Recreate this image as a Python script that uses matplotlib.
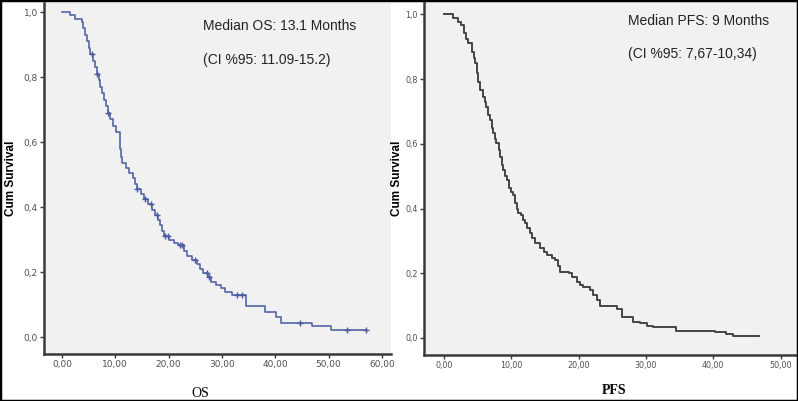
import numpy as np
import matplotlib.pyplot as plt
from matplotlib.patches import Rectangle

# OS Kaplan-Meier steps (time in months, survival after step)
os_time = [0, 1.5, 2.4, 3.7, 4.0, 4.3, 4.7, 5.0, 5.3, 5.8, 6.1, 6.5, 6.9, 7.2, 7.5,
           7.9, 8.3, 8.6, 9.0, 9.5, 10.2, 10.8, 10.9, 11.0, 11.2, 12.0, 12.6, 13.3,
           13.6, 14.0, 14.8, 15.4, 16.2, 16.8, 17.4, 18.0, 18.4, 18.8, 19.2, 20.0,
           21.0, 21.8, 22.9, 23.4, 24.4, 25.3, 25.9, 26.5, 27.4, 28.0, 28.8, 29.8,
           30.5, 31.8, 34.6, 38.1, 40.1, 41.1, 46.8, 50.5, 57.0]
os_surv = [1.0, 0.99, 0.98, 0.97, 0.95, 0.93, 0.91, 0.89, 0.87, 0.85, 0.83, 0.81,
           0.79, 0.77, 0.75, 0.73, 0.71, 0.69, 0.67, 0.65, 0.63, 0.61, 0.58, 0.555,
           0.535, 0.52, 0.505, 0.49, 0.47, 0.455, 0.44, 0.425, 0.41, 0.39, 0.375,
           0.36, 0.345, 0.325, 0.31, 0.298, 0.29, 0.283, 0.265, 0.25, 0.238, 0.225,
           0.21, 0.197, 0.185, 0.17, 0.16, 0.15, 0.14, 0.13, 0.094, 0.077, 0.061,
           0.044, 0.034, 0.022, 0.022]
os_censor = [5.6, 6.6, 8.7, 14.0, 15.6, 16.6, 17.8, 19.4, 19.8, 22.1, 22.5, 25.0,
             27.1, 27.6, 32.8, 33.7, 44.6, 53.4, 57.0]

# PFS Kaplan-Meier steps
pfs_time = [0, 1.4, 2.1, 2.6, 2.9, 3.3, 3.6, 4.1, 4.4, 4.6, 4.85, 5.1, 5.35, 5.85,
            6.1, 6.3, 6.6, 6.8, 7.1, 7.3, 7.6, 7.8, 8.1, 8.3, 8.6, 8.8, 9.1, 9.3,
            9.7, 10.0, 10.3, 10.55, 10.8, 11.05, 11.5, 11.8, 12.0, 12.4, 12.8, 13.1,
            13.5, 14.3, 14.8, 15.3, 16.0, 16.5, 16.9, 17.2, 18.5, 19.0, 19.7, 20.2,
            20.7, 21.7, 22.2, 22.7, 23.2, 25.7, 26.4, 28.1, 29.1, 30.1, 31.1, 34.5,
            40.2, 41.9, 42.9, 46.8]
pfs_surv = [1.0, 0.99, 0.978, 0.968, 0.942, 0.925, 0.911, 0.885, 0.865, 0.849, 0.818,
            0.79, 0.767, 0.746, 0.73, 0.715, 0.69, 0.674, 0.65, 0.633, 0.615, 0.602,
            0.58, 0.56, 0.535, 0.519, 0.5, 0.488, 0.465, 0.452, 0.441, 0.416, 0.4,
            0.386, 0.38, 0.365, 0.355, 0.34, 0.324, 0.31, 0.293, 0.277, 0.267, 0.257,
            0.248, 0.241, 0.222, 0.205, 0.2, 0.188, 0.174, 0.165, 0.159, 0.148, 0.133,
            0.117, 0.099, 0.089, 0.066, 0.05, 0.045, 0.038, 0.033, 0.023, 0.017,
            0.012, 0.005, 0.005]

os_ticks = [0, 10, 20, 30, 40, 50, 60]
pfs_ticks = [0, 10, 20, 30, 40, 50]
y_ticks = [0.0, 0.2, 0.4, 0.6, 0.8, 1.0]

fig = plt.figure(figsize=(7.98, 4.01), dpi=100)
fig.patch.set_facecolor('white')

ax1 = fig.add_axes([44/798, 1 - 354/401, (391-44)/798, (354-3)/401])
ax2 = fig.add_axes([424/798, 1 - 355/401, (797-424)/798, (355-2)/401])

def style(ax, xticks, xlim, ylim, lsize):
    ax.set_facecolor('#f1f1f1')
    for s in ['top', 'right']:
        ax.spines[s].set_visible(False)
    for s in ['left', 'bottom']:
        ax.spines[s].set_color('#3a3a3a')
        ax.spines[s].set_linewidth(1.8)
    ax.set_xlim(xlim)
    ax.set_ylim(ylim)
    ax.set_xticks(xticks)
    ax.set_xticklabels([('%.2f' % t).replace('.', ',') for t in xticks])
    ax.set_yticks(y_ticks)
    ax.set_yticklabels([('%.1f' % v).replace('.', ',') for v in y_ticks])
    ax.tick_params(direction='out', length=3, width=1, color='#3a3a3a',
                   labelsize=lsize, labelcolor='#505050', pad=1.5)
    ax.set_ylabel('Cum Survival', fontsize=8.5, fontweight='bold',
                  family='Liberation Sans')

# OS panel
style(ax1, os_ticks, (-3.375, 61.7), (-0.0523, 1.0277), 6.5)
ax1.step(os_time, os_surv, where='post', color='#5565a5', lw=1.2)
idx = np.searchsorted(os_time, os_censor, side='right') - 1
ax1.plot(os_censor, np.array(os_surv)[idx], '+', color='#4a5a9c', ms=5, mew=1.0)
ax1.text(26.4, 0.957, 'Median OS: 13.1 Months', fontsize=10,
         family='Liberation Sans', va='center', color='#222222')
ax1.text(26.4, 0.852, '(CI %95: 11.09-15.2)', fontsize=10,
         family='Liberation Sans', va='center', color='#222222')
ax1.set_xlabel('OS', fontsize=10, family='Liberation Serif')
ax1.xaxis.set_label_coords(0.45, -0.093)

# PFS panel
style(ax2, pfs_ticks, (-2.97, 52.45), (-0.0526, 1.0386), 5.8)
ax2.step(pfs_time, pfs_surv, where='post', color='#454545', lw=1.4)
ax2.text(27.3, 0.98, 'Median PFS: 9 Months', fontsize=10,
         family='Liberation Sans', va='center', color='#222222')
ax2.text(27.3, 0.878, '(CI %95: 7,67-10,34)', fontsize=10,
         family='Liberation Sans', va='center', color='#222222')
ax2.set_xlabel('PFS', fontsize=10, family='Liberation Serif', fontweight='bold')
ax2.xaxis.set_label_coords(0.51, -0.082)

ax1.yaxis.set_label_coords(-0.078, 0.5)
ax2.yaxis.set_label_coords(-0.056, 0.5)

fig.patches.append(Rectangle((0, 0), 1, 1, transform=fig.transFigure,
                             fill=False, edgecolor='black', lw=2.5))

fig.savefig('out.png', dpi=100)
